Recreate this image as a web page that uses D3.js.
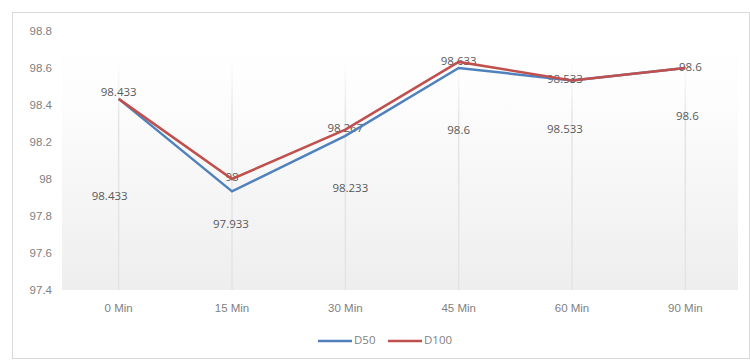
<!DOCTYPE html>
<html>
<head>
<meta charset="utf-8">
<script src="https://cdn.jsdelivr.net/npm/d3@7"></script>
<style>
  html, body { margin: 0; padding: 0; background: #fff; }
  svg { display: block; font-family: "Open Sans", "Liberation Sans", sans-serif; }
</style>
</head>
<body>
<svg id="chart" width="750" height="360"></svg>
<script>
// Temperature readings over time for two groups
const categories = ["0 Min", "15 Min", "30 Min", "45 Min", "60 Min", "90 Min"];
const d50 = [98.433, 97.933, 98.233, 98.6, 98.533, 98.6];
const d100 = [98.433, 98, 98.267, 98.633, 98.533, 98.6];
const yTicks = [97.4, 97.6, 97.8, 98, 98.2, 98.4, 98.6, 98.8];
const seriesNames = ["D50", "D100"];

// Label placement offsets (dx, dy in px) for the value labels
const d50LabelOffsets = [[-9, 98], [-1, 34], [5, 53], [0, 63], [-7, 50], [2, 49]];
const d100LabelOffsets = [[0, -6], [0, -1], [0, -1], [0, 0], [-7, 0], [5, 0]];

const svg = d3.select("#chart");
const W = 750, H = 360;
const margin = { left: 62, right: 8, top: 31, bottom: 70 };
const plotRight = W - margin.right;
const plotBottom = H - margin.bottom;

const colors = { D50: "#4f81bd", D100: "#c0504d" };

// Outer chart border
svg.append("rect")
  .attr("x", 12.5).attr("y", 12.5)
  .attr("width", W - 13).attr("height", H - 14)
  .attr("fill", "#fff").attr("stroke", "#d9d9d9").attr("stroke-width", 1);

const x = d3.scaleBand().domain(categories).range([margin.left, plotRight]);
const y = d3.scaleLinear().domain([97.4, 98.8]).range([plotBottom, margin.top]);

// Plot background gradient
const defs = svg.append("defs");
const grad = defs.append("linearGradient").attr("id", "bg")
  .attr("x1", 0).attr("y1", 0).attr("x2", 0).attr("y2", 1);
grad.append("stop").attr("offset", "0%").attr("stop-color", "#ffffff");
grad.append("stop").attr("offset", "25%").attr("stop-color", "#fdfdfd");
grad.append("stop").attr("offset", "100%").attr("stop-color", "#eeeeee");

svg.append("rect")
  .attr("x", margin.left).attr("y", margin.top)
  .attr("width", plotRight - margin.left - 4).attr("height", plotBottom - margin.top)
  .attr("fill", "url(#bg)");

// Vertical gridlines at category centres, fading towards the top
const gridGrad = defs.append("linearGradient").attr("id", "gridFade")
  .attr("gradientUnits", "userSpaceOnUse")
  .attr("x1", 0).attr("y1", margin.top + 30).attr("x2", 0).attr("y2", margin.top + 90);
gridGrad.append("stop").attr("offset", "0%").attr("stop-color", "#e4e4e4").attr("stop-opacity", 0);
gridGrad.append("stop").attr("offset", "100%").attr("stop-color", "#e4e4e4").attr("stop-opacity", 1);

svg.append("g").selectAll("rect").data(categories).join("rect")
  .attr("x", d => x(d) + x.bandwidth() / 2 - 0.75)
  .attr("width", 1.5)
  .attr("y", margin.top + 30).attr("height", plotBottom - margin.top - 30)
  .attr("fill", "url(#gridFade)");

// Y axis labels
const yAxis = d3.axisLeft(y).tickValues(yTicks).tickFormat(d3.format("")).tickSize(0).tickPadding(0);
const yg = svg.append("g").attr("transform", `translate(${margin.left - 10},0)`).call(yAxis);
yg.select(".domain").remove();
yg.selectAll("text").attr("fill", "#7f7f7f").attr("font-size", 11.5);

// X axis labels
const xAxis = d3.axisBottom(x).tickSize(0).tickPadding(0);
const xg = svg.append("g").attr("transform", `translate(0,${plotBottom + 14})`).call(xAxis);
xg.select(".domain").remove();
xg.selectAll("text").attr("fill", "#7f7f7f").attr("font-size", 11.5);

// Value labels
function labels(vals, offsets) {
  svg.append("g").selectAll("text").data(vals).join("text")
    .attr("x", (d, i) => x(categories[i]) + x.bandwidth() / 2 + offsets[i][0])
    .attr("y", (d, i) => y(d) + offsets[i][1])
    .attr("text-anchor", "middle")
    .attr("dominant-baseline", "middle")
    .attr("fill", "#595959")
    .attr("font-size", 11.5)
    .text(d => String(d));
}
labels(d50, d50LabelOffsets);
labels(d100, d100LabelOffsets);

// Lines
const line = d3.line()
  .x((d, i) => x(categories[i]) + x.bandwidth() / 2)
  .y(d => y(d));

[["D50", d50], ["D100", d100]].forEach(([name, vals]) => {
  svg.append("path").datum(vals)
    .attr("d", line)
    .attr("fill", "none")
    .attr("stroke", colors[name])
    .attr("stroke-width", 2.5)
    .attr("stroke-linejoin", "miter");
});

// Legend
const legend = svg.append("g").attr("transform", "translate(318,341)");
seriesNames.forEach((name, i) => {
  const g = legend.append("g").attr("transform", `translate(${i * 70},0)`);
  g.append("line").attr("x1", 0).attr("x2", 34).attr("y1", 0).attr("y2", 0)
    .attr("stroke", colors[name]).attr("stroke-width", 2.5);
  g.append("text").attr("x", 36).attr("y", 0)
    .attr("dominant-baseline", "middle")
    .attr("fill", "#7f7f7f").attr("font-size", 11.5)
    .text(name);
});
</script>
</body>
</html>
